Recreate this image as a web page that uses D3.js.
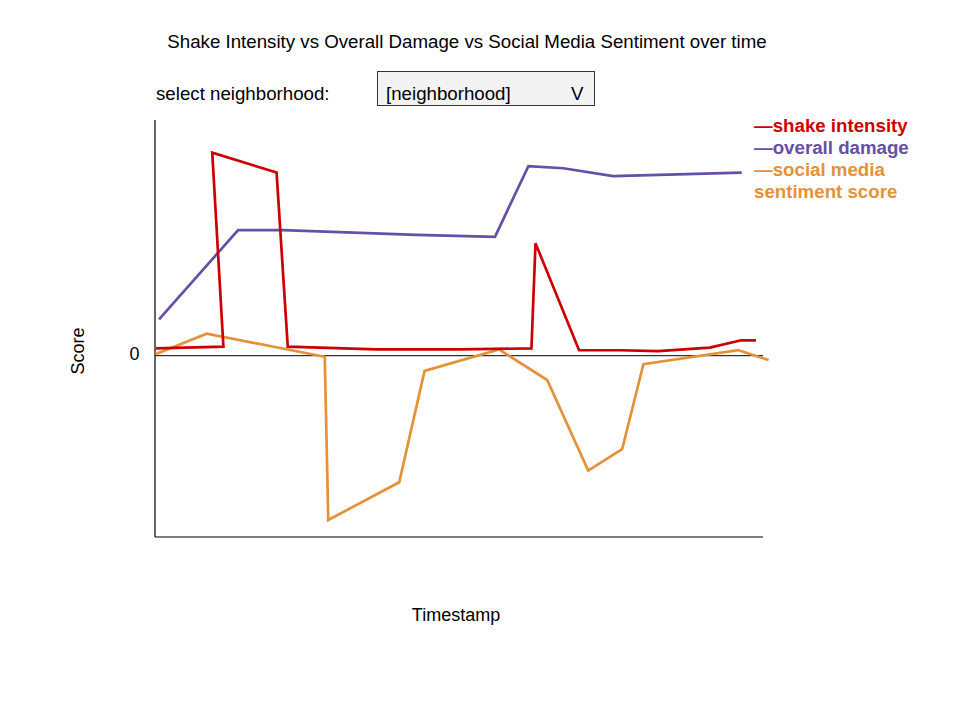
<!DOCTYPE html>
<html>
<head>
<meta charset="utf-8">
<script src="https://cdn.jsdelivr.net/npm/d3@7"></script>
<style>
  body { margin: 0; background: #fff; }
  svg { display: block; font-family: "Liberation Sans", Arial, sans-serif; }
</style>
</head>
<body>
<svg id="chart" width="960" height="720"></svg>
<script>
// ---- data ----
const shakeTime   = [0.2, 13.5, 11.3, 24.0, 26.2, 43.7, 60.2, 74.3, 75.1, 83.7, 91.8, 99.3, 109.5, 115.7, 118.6];
const shakeValue  = [0.4, 0.5, 11.2, 10.1, 0.5, 0.35, 0.35, 0.4, 6.2, 0.3, 0.3, 0.25, 0.45, 0.85, 0.85];

const damageTime  = [0.8, 16.4, 25.3, 51.6, 67.1, 73.7, 80.6, 90.4, 115.8];
const damageValue = [2.0, 6.93, 6.93, 6.66, 6.56, 10.46, 10.34, 9.91, 10.1];

const socialTime  = [0.1, 10.2, 33.5, 34.2, 48.2, 53.2, 67.9, 77.4, 85.5, 92.2, 96.4, 115.1, 121.1];
const socialValue = [0.08, 1.21, -0.06, -9.06, -6.98, -0.84, 0.35, -1.34, -6.34, -5.16, -0.47, 0.31, -0.24];

const yTickValues = [0];
const legendLabels = [["—shake intensity"], ["—overall damage"], ["—social media", "sentiment score"]];
const seriesColors = ["#cc0000", "#674ea7", "#e69138"];

const titleText = "Shake Intensity vs Overall Damage vs Social Media Sentiment over time";
const selectLabel = "select neighborhood:";
const selectValue = "[neighborhood]";

// ---- layout ----
const svg = d3.select("#chart");
const mLeft = 155, mRight = 763, mTop = 120, mBottom = 537;
const fs = 18.7;

const x = d3.scaleLinear().domain([0, 120]).range([mLeft, mRight]);
const y = d3.scaleLinear().domain([-10, 13]).range([mBottom, mTop]);

// title
svg.append("text").attr("x", 467).attr("y", 47.5).attr("text-anchor", "middle")
  .attr("font-size", fs).attr("fill", "#000").text(titleText);

// selector
svg.append("text").attr("x", 156).attr("y", 99.5).attr("font-size", fs).attr("fill", "#000").text(selectLabel);
svg.append("rect").attr("x", 377.5).attr("y", 71.5).attr("width", 217).attr("height", 34)
  .attr("fill", "#f3f3f3").attr("stroke", "#333").attr("stroke-width", 1);
svg.append("text").attr("x", 386).attr("y", 99.5).attr("font-size", fs).attr("fill", "#000").text(selectValue);
svg.append("text").attr("x", 571).attr("y", 99.5).attr("font-size", fs).attr("fill", "#000").text("V");

// axes lines
svg.append("line").attr("x1", mLeft).attr("x2", mLeft).attr("y1", mTop).attr("y2", mBottom)
  .attr("stroke", "#000").attr("stroke-width", 1.2);
svg.append("line").attr("x1", mLeft).attr("x2", mRight).attr("y1", mBottom).attr("y2", mBottom)
  .attr("stroke", "#000").attr("stroke-width", 1.2);

// zero line + tick label
yTickValues.forEach(v => {
  svg.append("line").attr("x1", mLeft).attr("x2", mRight).attr("y1", y(v)).attr("y2", y(v))
    .attr("stroke", "#000").attr("stroke-width", 1);
  svg.append("text").attr("x", 139.5).attr("y", y(v) + 4).attr("text-anchor", "end")
    .attr("font-size", 18).attr("fill", "#000").text(v);
});

// axis titles
svg.append("text").attr("transform", "translate(84,351) rotate(-90)").attr("text-anchor", "middle")
  .attr("font-size", 18).attr("fill", "#000").text("Score");
svg.append("text").attr("x", 456).attr("y", 621).attr("text-anchor", "middle")
  .attr("font-size", 18).attr("fill", "#000").text("Timestamp");

// lines
const line = d3.line().x(d => x(d[0])).y(d => y(d[1]));
const series = [
  d3.zip(shakeTime, shakeValue),
  d3.zip(damageTime, damageValue),
  d3.zip(socialTime, socialValue)
];
[2, 1, 0].forEach(i => {
  svg.append("path").datum(series[i]).attr("d", line)
    .attr("fill", "none").attr("stroke", seriesColors[i]).attr("stroke-width", 2.7)
    .attr("stroke-linejoin", "miter").attr("stroke-miterlimit", 4);
});

// legend
let ly = 131.5;
legendLabels.forEach((lines, i) => {
  lines.forEach((t) => {
    svg.append("text").attr("x", 754).attr("y", ly).attr("font-size", fs).attr("font-weight", "bold")
      .attr("fill", seriesColors[i]).text(t);
    ly += 22;
  });
});
</script>
</body>
</html>
